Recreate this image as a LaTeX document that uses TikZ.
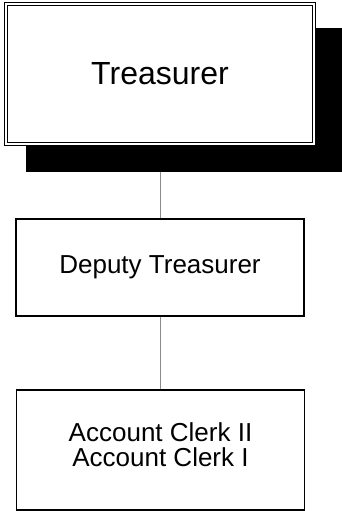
\documentclass[tikz,border=0pt]{standalone}
\usepackage{fontspec}
\setmainfont{Liberation Sans}
\usepackage{tikz}
\usetikzlibrary{shadows, backgrounds}
\definecolor{linkgray}{RGB}{140,140,140}

\begin{document}
\begin{tikzpicture}[x=1pt, y=1pt,
  posbox/.style={draw=black, line width=1.2pt, fill=white, minimum width=288pt, inner sep=0pt, align=center, font=\fontsize{26}{25}\selectfont},
  link/.style={draw=linkgray, line width=1pt}]
\useasboundingbox (0,0) rectangle (341,-511);
% top post with double frame and black shadow
\node[draw=black, double=white, double distance=2.4pt, line width=0.9pt, fill=white, minimum width=308pt, minimum height=140pt, font=\fontsize{32}{36}\selectfont, general shadow={fill=black, shadow xshift=23.5pt, shadow yshift=-25pt, shadow scale=1.03}] (tr) at (160,-74) {Treasurer};
\node[posbox, minimum height=97pt] (dep) at (160,-267.5) {Deputy Treasurer};
\node[posbox, minimum height=120pt, text depth=10pt] (clk) at (160.5,-450) {Account Clerk II\\Account Clerk I};
\begin{scope}[on background layer]
\draw[link] (tr.south) -- (dep.north);
\draw[link] (dep.south) -- (clk.north -| dep.south);
\end{scope}
\end{tikzpicture}
\end{document}
